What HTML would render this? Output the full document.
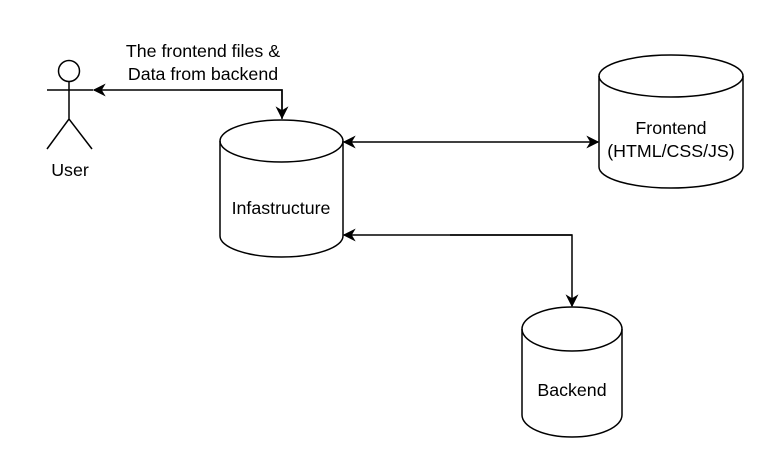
<!DOCTYPE html>
<html><head><style>body{margin:0;background:#fff}svg{display:block}text{font-family:"Liberation Sans",Arial,sans-serif;font-size:17.8px;fill:#000}</style></head>
<body>
<svg width="769" height="470" viewBox="0 0 769 470" xmlns="http://www.w3.org/2000/svg">
<defs><marker id="a" viewBox="0 0 10 10" refX="9" refY="5" markerWidth="13" markerHeight="13" orient="auto" markerUnits="userSpaceOnUse"><path d="M0,0 L10,5 L0,10 L3,5 Z" fill="#000"/></marker></defs>
<g fill="none" stroke="#000" stroke-width="1.5">
<circle cx="69" cy="71" r="10.5" fill="#fff"/>
<path d="M69 82 V119 M47 90 H93 M47 149 L69 119 L92 149"/>
<path d="M220 141 A61.5 21 0 0 1 343 141 V236 A61.5 21 0 0 1 220 236 Z" fill="#fff"/>
<path d="M220 141 A61.5 21 0 0 0 343 141"/>
<path d="M599 76 A72 21 0 0 1 743 76 V167 A72 21 0 0 1 599 167 Z" fill="#fff"/>
<path d="M599 76 A72 21 0 0 0 743 76"/>
<path d="M522 329 A50 22 0 0 1 622 329 V415 A50 22 0 0 1 522 415 Z" fill="#fff"/>
<path d="M522 329 A50 22 0 0 0 622 329"/>
<path d="M282 119 V90 H94" marker-end="url(#a)"/>
<path d="M200 90 H282 V118" marker-end="url(#a)"/>
<path d="M470 142 H344" marker-end="url(#a)"/>
<path d="M470 142 H598" marker-end="url(#a)"/>
<path d="M572 235 H344" marker-end="url(#a)"/>
<path d="M450 235 H572 V306" marker-end="url(#a)"/>
</g>
<text x="203" y="57" text-anchor="middle">The frontend files &amp;</text>
<text x="203" y="80" text-anchor="middle">Data from backend</text>
<text x="70" y="176" text-anchor="middle">User</text>
<text x="281" y="214" text-anchor="middle">Infastructure</text>
<text x="671" y="134" text-anchor="middle">Frontend</text>
<text x="671" y="157" text-anchor="middle">(HTML/CSS/JS)</text>
<text x="572" y="396" text-anchor="middle">Backend</text>
</svg>
</body></html>
